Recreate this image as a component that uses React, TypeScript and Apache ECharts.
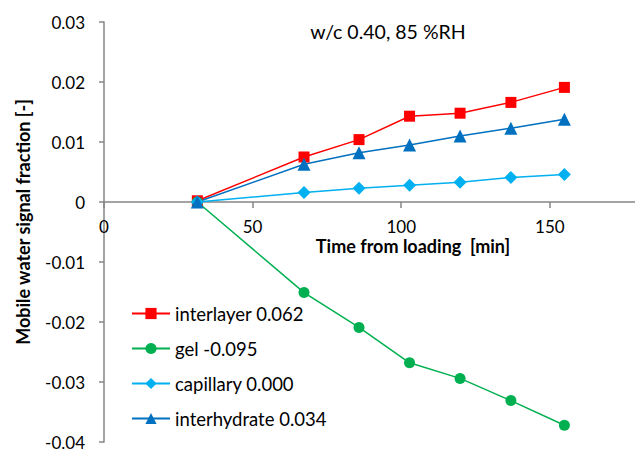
import React, { useEffect, useRef } from "react";
import * as echarts from "echarts";

const times = [31.4, 67.3, 85.8, 102.8, 119.8, 136.9, 154.9];
const interlayer = [0.0002, 0.0075, 0.0104, 0.0143, 0.0148, 0.0166, 0.0191];
const gel = [0.0, -0.0151, -0.0209, -0.0268, -0.0294, -0.0331, -0.0372];
const capillary = [0.0, 0.0016, 0.0023, 0.0028, 0.0033, 0.0041, 0.0046];
const interhydrate = [0.0, 0.0063, 0.0082, 0.0095, 0.011, 0.0123, 0.0138];

const seriesNames = ["interlayer 0.062", "gel -0.095", "capillary 0.000", "interhydrate 0.034"];
const title = "w/c 0.40, 85 %RH";
const xName = "Time from loading  [min]";
const yName = "Mobile water signal fraction [-]";

const FONT = "Lato";

export default function App() {
  const ref = useRef<HTMLDivElement>(null);
  useEffect(() => {
    if (!ref.current) return;
    const chart = echarts.init(ref.current, undefined, { renderer: "svg" });
    const mk = (vals: number[]) => times.map((t, i) => [t, vals[i]]);
    const lineSeries = (name: string, vals: number[], color: string, symbol: string, size: number) => ({
      name,
      type: "line",
      data: mk(vals),
      symbol,
      symbolSize: size,
      showAllSymbol: true,
      lineStyle: { color, width: 1.5 },
      itemStyle: { color },
      emphasis: { disabled: true },
    });
    chart.setOption({
      animation: false,
      backgroundColor: "#ffffff",
      textStyle: { fontFamily: FONT },
      grid: { left: 104, top: 22, width: 535, height: 420, outerBoundsMode: "none", containLabel: false },
      xAxis: {
        type: "value",
        min: 0,
        max: 180,
        interval: 50,
        position: "bottom",
        offset: -240,
        axisLine: { show: true, onZero: false, lineStyle: { color: "#868686", width: 1.5 } },
        axisTick: { show: true, length: 6, lineStyle: { color: "#868686", width: 1.5 } },
        splitLine: { show: false },
        axisLabel: {
          margin: 18,
          color: "#000",
          fontSize: 17,
          lineHeight: 13,
          fontFamily: FONT,
          formatter: (v: number) => (v % 50 === 0 ? String(v) : ""),
        },
      },
      yAxis: {
        type: "value",
        min: -0.04,
        max: 0.03,
        interval: 0.01,
        axisLine: { show: true, lineStyle: { color: "#868686", width: 1.5 } },
        axisTick: { show: true, length: 5, lineStyle: { color: "#868686", width: 1.5 } },
        splitLine: { show: false },
        axisLabel: {
          margin: 19,
          color: "#000",
          fontSize: 17,
          fontFamily: FONT,
          formatter: (v: number) => {
            const r = Math.round(v * 100) / 100;
            return r === 0 ? "0" : r.toFixed(2);
          },
        },
      },
      legend: {
        orient: "vertical",
        left: 131,
        top: 304,
        padding: 0,
        itemWidth: 38,
        itemHeight: 14,
        itemGap: 16,
        textStyle: { fontSize: 18.5, fontFamily: FONT, color: "#000", lineHeight: 17 },
        data: seriesNames,
      },
      graphic: [
        {
          type: "text",
          x: 388,
          y: 31,
          style: { text: title, fontSize: 19.5, fontFamily: FONT, fill: "#000", textAlign: "center", textVerticalAlign: "middle" },
        },
        {
          type: "text",
          x: 413,
          y: 246,
          style: { text: xName, fontSize: 18, lineHeight: 14, fontWeight: "bold", fontFamily: FONT, fill: "#000", textAlign: "center", textVerticalAlign: "middle" },
        },
        {
          type: "text",
          x: 23,
          y: 222,
          rotation: Math.PI / 2,
          style: { text: yName, fontSize: 18, fontWeight: "bold", fontFamily: FONT, fill: "#000", textAlign: "center", textVerticalAlign: "middle" },
        },
      ],
      series: [
        lineSeries(seriesNames[0], interlayer, "#FF0000", "rect", 11),
        lineSeries(seriesNames[1], gel, "#00B050", "circle", 11),
        lineSeries(seriesNames[2], capillary, "#00B0F0", "diamond", 13),
        lineSeries(seriesNames[3], interhydrate, "#0070C0", "triangle", 13),
      ],
    });
    return () => chart.dispose();
  }, []);
  return <div ref={ref} style={{ position: "fixed", left: 0, top: 0, width: 635, height: 451 }} />;
}
